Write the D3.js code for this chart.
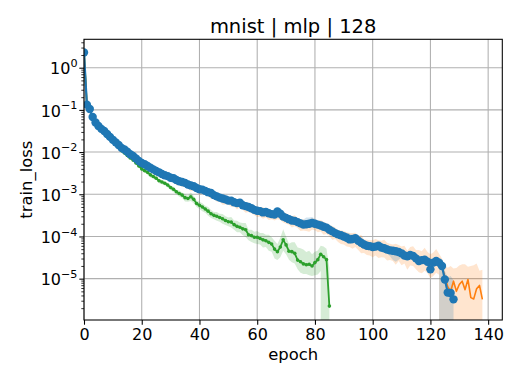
<!DOCTYPE html>
<html>
<head>
<meta charset="utf-8">
<script src="https://cdnjs.cloudflare.com/ajax/libs/d3/7.8.5/d3.min.js"></script>
<style>
  body { margin: 0; background: #fff; }
  svg { display: block; }
  text { font-family: "DejaVu Sans", sans-serif; fill: #000; }
</style>
</head>
<body>
<svg id="chart" width="532" height="380"></svg>
<script>
/* train_loss per epoch, stored as log10(loss) */

var blueLog = [
 0.36,-0.88,-0.98,-1.17,-1.30,-1.38,-1.45,-1.50,-1.57,-1.64,
-1.71,-1.77,-1.83,-1.90,-1.94,-1.99,-2.05,-2.09,-2.15,-2.21,
-2.26,-2.29,-2.33,-2.37,-2.41,-2.45,-2.48,-2.52,-2.55,-2.57,
-2.61,-2.62,-2.66,-2.69,-2.71,-2.73,-2.77,-2.79,-2.81,-2.85,
-2.88,-2.89,-2.92,-2.95,-2.97,-3.02,-3.05,-3.08,-3.10,-3.12,
-3.15,-3.15,-3.19,-3.21,-3.20,-3.26,-3.28,-3.30,-3.33,-3.37,
-3.39,-3.40,-3.43,-3.42,-3.45,-3.47,-3.48,-3.41,-3.46,-3.53,
-3.56,-3.59,-3.62,-3.63,-3.66,-3.69,-3.72,-3.71,-3.70,-3.68,
-3.70,-3.72,-3.74,-3.77,-3.79,-3.84,-3.88,-3.92,-3.95,-3.97,
-4.00,-4.03,-4.07,-4.06,-4.04,-4.10,-4.15,-4.19,-4.22,-4.23,
-4.25,-4.24,-4.22,-4.26,-4.28,-4.31,-4.33,-4.34,-4.35,-4.37,
-4.40,-4.45,-4.47,-4.44,-4.46,-4.52,-4.58,-4.56,-4.55,-4.60,
-4.78,-4.62,-4.58,-4.62,-4.70,-5.02,-5.33,-5.34,-5.49
];

var orangeLog = [
 0.36,-0.88,-0.99,-1.16,-1.30,-1.39,-1.45,-1.51,-1.57,-1.65,
-1.71,-1.78,-1.83,-1.89,-1.95,-1.99,-2.04,-2.10,-2.15,-2.20,
-2.27,-2.30,-2.33,-2.38,-2.41,-2.46,-2.49,-2.51,-2.56,-2.58,
-2.60,-2.63,-2.67,-2.68,-2.72,-2.74,-2.76,-2.80,-2.82,-2.84,
-2.89,-2.90,-2.91,-2.96,-2.98,-3.01,-3.06,-3.07,-3.11,-3.13,
-3.14,-3.17,-3.18,-3.22,-3.21,-3.25,-3.29,-3.31,-3.32,-3.38,
-3.40,-3.41,-3.42,-3.44,-3.46,-3.46,-3.50,-3.43,-3.47,-3.54,
-3.55,-3.60,-3.63,-3.62,-3.67,-3.70,-3.71,-3.73,-3.71,-3.69,
-3.71,-3.73,-3.73,-3.78,-3.80,-3.83,-3.89,-3.91,-3.96,-3.98,
-4.01,-4.02,-4.08,-4.05,-4.06,-4.11,-4.14,-4.21,-4.21,-4.25,
-4.24,-4.26,-4.23,-4.27,-4.30,-4.30,-4.35,-4.33,-4.37,-4.36,
-4.42,-4.44,-4.49,-4.45,-4.48,-4.50,-4.60,-4.55,-4.57,-4.59,
-4.74,-4.64,-4.60,-4.63,-4.72,-4.95,-5.19,-5.30,-5.06,-5.30,
-5.14,-5.06,-5.26,-5.02,-5.45,-5.48,-5.24,-5.16,-5.49
];

var greenLog = [
 0.36,-0.88,-0.98,-1.17,-1.30,-1.38,-1.45,-1.50,-1.57,-1.64,
-1.71,-1.77,-1.87,-1.97,-2.02,-2.08,-2.14,-2.19,-2.26,-2.33,
-2.40,-2.44,-2.48,-2.54,-2.58,-2.62,-2.68,-2.71,-2.74,-2.78,
-2.84,-2.88,-2.94,-2.98,-3.02,-3.08,-3.10,-3.06,-3.12,-3.22,
-3.26,-3.30,-3.35,-3.40,-3.46,-3.50,-3.52,-3.55,-3.58,-3.62,
-3.65,-3.66,-3.72,-3.76,-3.78,-3.82,-3.84,-3.96,-3.98,-4.02,
-4.02,-4.05,-4.08,-4.10,-4.14,-4.18,-4.30,-4.36,-4.25,-4.08,
-4.20,-4.35,-4.36,-4.40,-4.56,-4.60,-4.65,-4.67,-4.66,-4.70,
-4.62,-4.55,-4.42,-4.48,-4.55,-5.65
];

// shaded band, in log10 units above / below the line (null = runs off the bottom)
var blueUp = [
0.02,0.02,0.02,0.02,0.02,0.02,0.02,0.02,0.02,0.02,
0.03,0.03,0.03,0.03,0.03,0.03,0.03,0.03,0.03,0.03,
0.05,0.04,0.06,0.05,0.04,0.06,0.05,0.05,0.06,0.04,
0.05,0.06,0.04,0.05,0.06,0.05,0.04,0.06,0.05,0.05,
0.06,0.05,0.04,0.06,0.05,0.05,0.06,0.04,0.05,0.06,
0.05,0.06,0.05,0.04,0.06,0.05,0.05,0.06,0.05,0.04,
0.06,0.05,0.07,0.06,0.12,0.08,0.06,0.07,0.05,0.06,
0.06,0.07,0.05,0.06,0.08,0.07,0.12,0.16,0.15,0.14,
0.12,0.08,0.06,0.07,0.06,0.07,0.06,0.08,0.07,0.06,
0.07,0.12,0.14,0.08,0.06,0.07,0.08,0.06,0.07,0.08,
0.07,0.06,0.08,0.07,0.06,0.08,0.07,0.08,0.09,0.07,
0.08,0.07,0.09,0.08,0.07,0.09,0.08,0.07,0.09,0.08,
0.08,0.09,0.07,0.08,0.05,0.20,0.35,0.40,0.45
];
var blueDn = [
0.02,0.02,0.02,0.02,0.02,0.02,0.02,0.02,0.02,0.02,
0.03,0.03,0.03,0.03,0.03,0.03,0.03,0.03,0.03,0.03,
0.05,0.06,0.05,0.04,0.06,0.05,0.05,0.06,0.04,0.05,
0.06,0.05,0.05,0.06,0.04,0.05,0.06,0.05,0.05,0.06,
0.05,0.04,0.06,0.05,0.05,0.06,0.04,0.05,0.06,0.05,
0.06,0.05,0.04,0.06,0.05,0.05,0.06,0.05,0.04,0.06,
0.05,0.07,0.06,0.08,0.06,0.07,0.06,0.05,0.07,0.06,
0.07,0.06,0.06,0.07,0.06,0.08,0.07,0.06,0.07,0.08,
0.07,0.06,0.08,0.07,0.06,0.08,0.07,0.06,0.08,0.07,
0.08,0.07,0.09,0.12,0.08,0.07,0.09,0.08,0.07,0.09,
0.08,0.09,0.07,0.08,0.10,0.09,0.14,0.22,0.25,0.18,
0.10,0.09,0.08,0.10,0.09,0.08,0.10,0.09,0.12,0.10,
0.10,0.12,0.10,0.11,null,null,null,null,null
];

var orangeUp = [
0.02,0.02,0.02,0.02,0.02,0.02,0.02,0.02,0.02,0.02,
0.03,0.03,0.03,0.03,0.03,0.03,0.03,0.03,0.03,0.03,
0.06,0.05,0.08,0.06,0.07,0.09,0.06,0.08,0.07,0.06,
0.08,0.07,0.06,0.09,0.07,0.08,0.06,0.09,0.07,0.08,
0.09,0.07,0.08,0.06,0.10,0.08,0.07,0.09,0.08,0.07,
0.08,0.10,0.07,0.09,0.08,0.07,0.10,0.08,0.09,0.07,
0.10,0.09,0.12,0.08,0.10,0.09,0.11,0.10,0.08,0.12,
0.10,0.09,0.11,0.12,0.10,0.09,0.12,0.10,0.11,0.13,
0.11,0.10,0.12,0.13,0.11,0.10,0.14,0.12,0.11,0.13,
0.14,0.12,0.16,0.13,0.15,0.12,0.18,0.14,0.13,0.16,
0.15,0.20,0.14,0.17,0.22,0.15,0.18,0.14,0.20,0.16,
0.18,0.22,0.15,0.20,0.25,0.18,0.28,0.20,0.30,0.22,
0.32,0.26,0.30,0.22,0.20,0.25,0.45,0.60,0.30,0.55,
0.45,0.40,0.60,0.30,0.75,0.80,0.60,0.35,0.70
];
var orangeDn = [
0.02,0.02,0.02,0.02,0.02,0.02,0.02,0.02,0.02,0.02,
0.03,0.03,0.03,0.03,0.03,0.03,0.03,0.03,0.03,0.03,
0.08,0.06,0.10,0.07,0.09,0.12,0.08,0.10,0.07,0.09,
0.10,0.08,0.12,0.09,0.11,0.08,0.10,0.13,0.09,0.10,
0.12,0.09,0.11,0.10,0.13,0.09,0.12,0.10,0.14,0.11,
0.10,0.13,0.11,0.14,0.10,0.12,0.15,0.11,0.13,0.12,
0.14,0.12,0.16,0.11,0.15,0.13,0.12,0.16,0.14,0.13,
0.15,0.12,0.16,0.14,0.13,0.17,0.15,0.14,0.18,0.15,
0.14,0.17,0.15,0.18,0.14,0.16,0.19,0.15,0.17,0.20,
0.18,0.22,0.17,0.24,0.19,0.21,0.26,0.18,0.23,0.20,
0.25,0.19,0.28,0.22,0.20,0.27,0.21,0.25,0.30,0.22,
0.26,0.20,0.30,0.24,0.22,0.28,0.25,0.32,0.24,0.28,
0.25,0.30,0.26,0.28,null,null,null,null,null,null,
null,null,null,null,null,null,null,null,null
];

var greenUp = [
0.02,0.02,0.02,0.02,0.02,0.02,0.02,0.02,0.02,0.02,
0.03,0.03,0.03,0.03,0.03,0.03,0.03,0.03,0.03,0.03,
0.04,0.05,0.04,0.05,0.04,0.05,0.04,0.05,0.04,0.05,
0.05,0.06,0.05,0.07,0.06,0.08,0.07,0.10,0.08,0.07,
0.08,0.09,0.08,0.10,0.09,0.08,0.10,0.09,0.11,0.10,
0.10,0.12,0.10,0.13,0.11,0.14,0.16,0.12,0.14,0.13,
0.15,0.13,0.16,0.14,0.18,0.16,0.20,0.18,0.22,0.25,
0.20,0.18,0.22,0.26,0.30,0.32,0.34,0.30,0.32,0.28,
0.26,0.22,0.20,0.24,0.26,0.90
];
var greenDn = [
0.02,0.02,0.02,0.02,0.02,0.02,0.02,0.02,0.02,0.02,
0.03,0.03,0.03,0.03,0.03,0.03,0.03,0.03,0.03,0.03,
0.05,0.04,0.05,0.06,0.05,0.04,0.06,0.05,0.05,0.06,
0.06,0.07,0.06,0.08,0.07,0.09,0.08,0.10,0.09,0.08,
0.09,0.10,0.09,0.11,0.10,0.09,0.11,0.10,0.12,0.11,
0.11,0.13,0.12,0.14,0.12,0.15,0.17,0.13,0.15,0.14,
0.16,0.14,0.18,0.15,0.20,0.18,0.22,0.20,0.24,0.26,
0.22,0.20,0.25,0.24,0.22,0.26,0.24,0.22,0.26,0.24,
0.30,0.35,0.40,null,null,null
];

var xTicks = [0, 20, 40, 60, 80, 100, 120, 140];
var yDecades = [0, -1, -2, -3, -4, -5];
var titleText = "mnist | mlp | 128";

var W = 532, H = 380;
var m = {left: 84, right: 502.3, top: 39.3, bottom: 320};

var svg = d3.select("#chart");

var x = d3.scaleLinear().domain([0, 144.9]).range([m.left, m.right]);
var y = d3.scaleLog().domain([Math.pow(10, -5.98), Math.pow(10, 0.673)]).range([m.bottom, m.top]);

svg.append("defs").append("clipPath").attr("id", "plotclip")
  .append("rect")
    .attr("x", m.left).attr("y", m.top)
    .attr("width", m.right - m.left).attr("height", m.bottom - m.top);

// grid
var grid = svg.append("g");
grid.selectAll(".gx").data(xTicks).enter().append("line")
    .attr("x1", function(d) {return x(d);}).attr("x2", function(d) {return x(d);})
    .attr("y1", m.top).attr("y2", m.bottom)
    .style("stroke", "#b0b0b0").style("stroke-width", 1.07);
grid.selectAll(".gy").data(yDecades).enter().append("line")
    .attr("x1", m.left).attr("x2", m.right)
    .attr("y1", function(d) {return y(Math.pow(10, d));})
    .attr("y2", function(d) {return y(Math.pow(10, d));})
    .style("stroke", "#b0b0b0").style("stroke-width", 1.07);

function mkSeries(logs, up, dn) {
    return logs.map(function(v, i) {
        return {
            x: i,
            y: Math.pow(10, v),
            hi: Math.pow(10, v + up[i]),
            lo: dn[i] === null ? 1e-300 : Math.pow(10, v - dn[i])
        };
    });
}

var series = {
    blue:   {col: "#1f77b4", pts: mkSeries(blueLog, blueUp, blueDn)},
    orange: {col: "#ff7f0e", pts: mkSeries(orangeLog, orangeUp, orangeDn)},
    green:  {col: "#2ca02c", pts: mkSeries(greenLog, greenUp, greenDn)}
};

var plot = svg.append("g").attr("clip-path", "url(#plotclip)");

var band = d3.area()
    .x(function(d) {return x(d.x);})
    .y0(function(d) {return y(d.lo);})
    .y1(function(d) {return y(d.hi);});

var line = d3.line()
    .x(function(d) {return x(d.x);})
    .y(function(d) {return y(d.y);});

["orange", "green", "blue"].forEach(function(k) {
    plot.append("path")
        .attr("d", band(series[k].pts))
        .style("fill", series[k].col)
        .style("fill-opacity", 0.2)
        .style("stroke", "none");
});

// green: thin line with small dots
plot.append("path").attr("d", line(series.green.pts))
    .style("fill", "none").style("stroke", series.green.col)
    .style("stroke-width", 1.8).style("stroke-linejoin", "round");
plot.selectAll(".gdot").data(series.green.pts).enter().append("circle")
    .attr("cx", function(d) {return x(d.x);})
    .attr("cy", function(d) {return y(d.y);})
    .attr("r", 1.8)
    .style("fill", series.green.col);

// orange: plain line
plot.append("path").attr("d", line(series.orange.pts))
    .style("fill", "none").style("stroke", series.orange.col)
    .style("stroke-width", 1.6).style("stroke-linejoin", "round");

// blue: line with big dots
plot.append("path").attr("d", line(series.blue.pts))
    .style("fill", "none").style("stroke", series.blue.col)
    .style("stroke-width", 2.2).style("stroke-linejoin", "round");
plot.selectAll(".bdot").data(series.blue.pts).enter().append("circle")
    .attr("cx", function(d) {return x(d.x);})
    .attr("cy", function(d) {return y(d.y);})
    .attr("r", 4.2)
    .style("fill", series.blue.col);

// x axis
var xAxis = svg.append("g").attr("transform", "translate(0," + m.bottom + ")")
    .call(d3.axisBottom(x).tickValues(xTicks).tickSize(4.7).tickPadding(3.9));
xAxis.select(".domain").remove();
xAxis.selectAll("line").style("stroke", "#000").style("stroke-width", 1.07);
xAxis.selectAll("text").style("font-size", "16px")
    .style("font-family", "DejaVu Sans, sans-serif").style("fill", "#000");

// y axis: major + minor ticks
var minor = [];
for (var k = -6; k <= 0; k++) {
    for (var j = 2; j <= 9; j++) {
        var v = j * Math.pow(10, k);
        if (v >= y.domain()[0] && v <= y.domain()[1]) minor.push(v);
    }
}
var yMinor = svg.append("g").attr("transform", "translate(" + m.left + ",0)")
    .call(d3.axisLeft(y).tickValues(minor).tickSize(2.7).tickFormat(""));
yMinor.select(".domain").remove();
yMinor.selectAll("line").style("stroke", "#000").style("stroke-width", 0.8);

var yMajor = svg.append("g").attr("transform", "translate(" + m.left + ",0)")
    .call(d3.axisLeft(y).tickValues(yDecades.map(function(d) {return Math.pow(10, d);}))
        .tickSize(4.7).tickFormat(""));
yMajor.select(".domain").remove();
yMajor.selectAll("line").style("stroke", "#000").style("stroke-width", 1.07);

var ylab = svg.append("g").selectAll("text").data(yDecades).enter().append("text")
    .attr("x", 77.5)
    .attr("y", function(d) {return y(Math.pow(10, d)) + 6.8;})
    .attr("text-anchor", "end")
    .style("font-size", "16px");
ylab.append("tspan").text("10");
ylab.append("tspan")
    .attr("dy", -7.7)
    .style("font-size", "11.2px")
    .text(function(d) {return d === 0 ? "0" : "\u2212" + (-d);});

// frame
svg.append("rect")
    .attr("x", m.left).attr("y", m.top)
    .attr("width", m.right - m.left).attr("height", m.bottom - m.top)
    .style("fill", "none").style("stroke", "#000").style("stroke-width", 1.07);

// labels
svg.append("text")
    .attr("x", (m.left + m.right) / 2).attr("y", 360)
    .attr("text-anchor", "middle").style("font-size", "16.4px")
    .text("epoch");

svg.append("text")
    .attr("transform", "translate(31.5," + ((m.top + m.bottom) / 2) + ") rotate(-90)")
    .attr("text-anchor", "middle").style("font-size", "16.4px")
    .text("train_loss");

svg.append("text")
    .attr("x", (m.left + m.right) / 2).attr("y", 33.3)
    .attr("text-anchor", "middle").style("font-size", "19.5px")
    .text(titleText);
</script>
</body>
</html>
